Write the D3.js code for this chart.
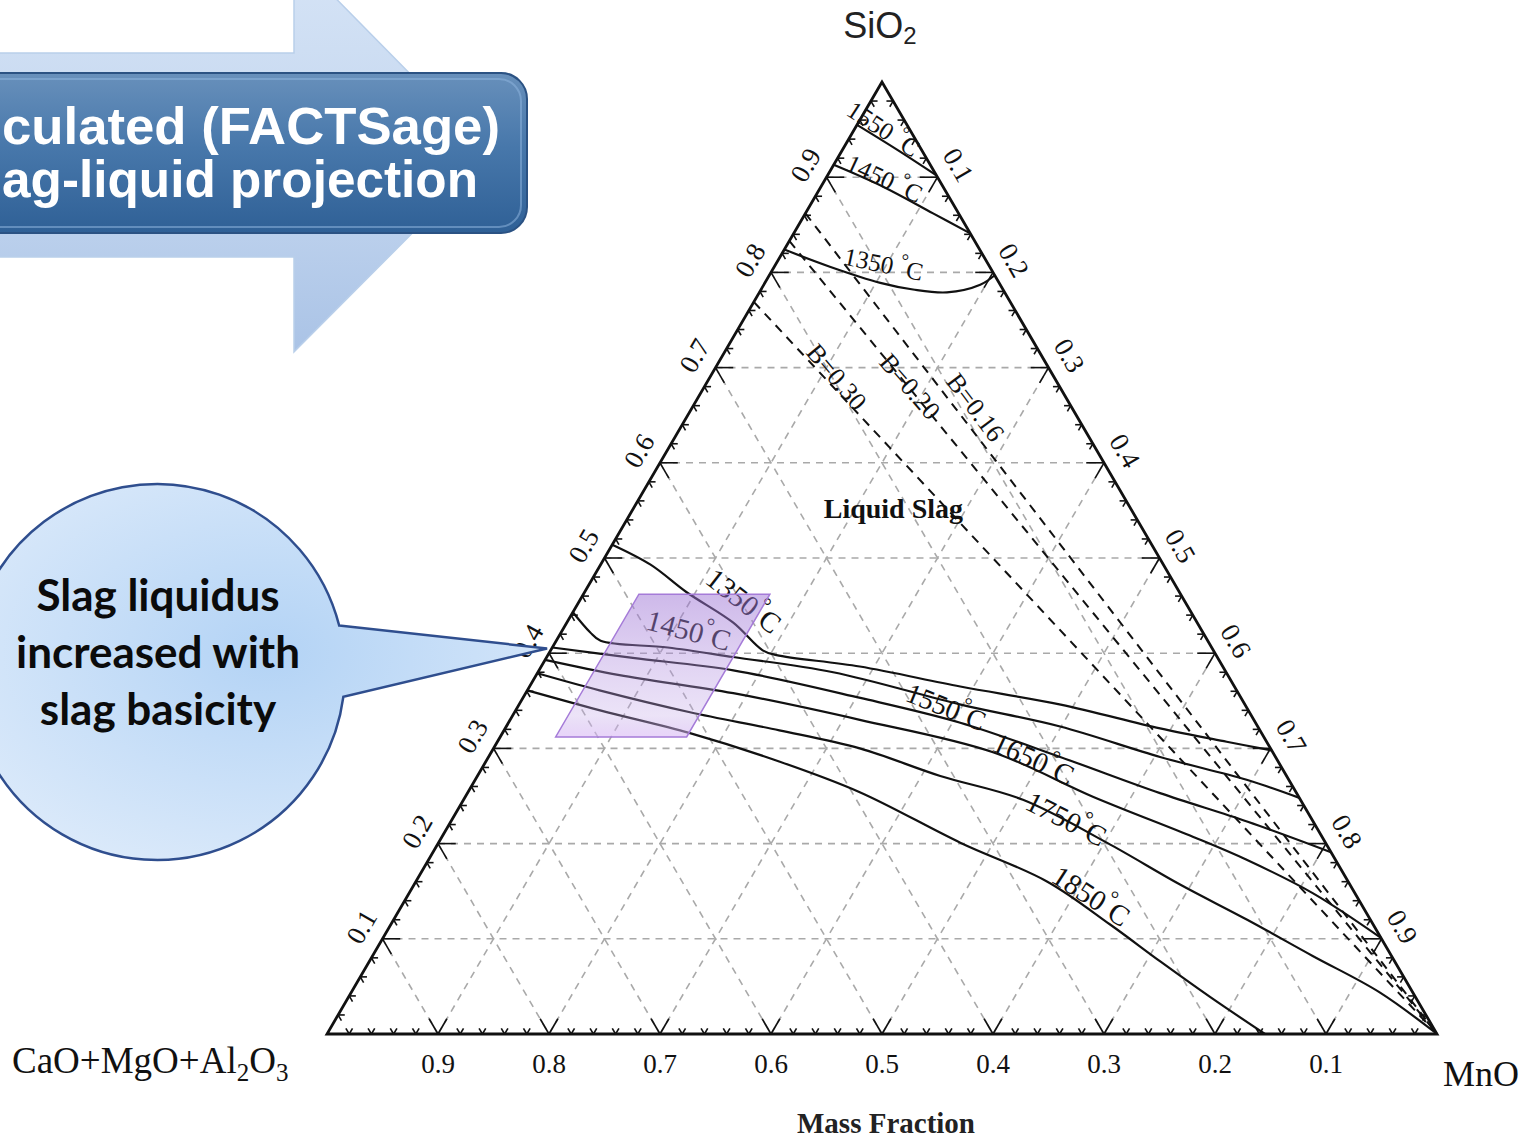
<!DOCTYPE html>
<html>
<head>
<meta charset="utf-8">
<script src="https://cdn.jsdelivr.net/npm/d3@7"></script>
<style>
  html, body { margin: 0; padding: 0; background: #fff; overflow: hidden; }
  svg { display: block; }
</style>
</head>
<body>
<svg id="chart"></svg>
<script>
// composition points are [SiO2, MnO] mass fractions; CaO+MgO+Al2O3 is the remainder
const gridSteps = [0.1, 0.2, 0.3, 0.4, 0.5, 0.6, 0.7, 0.8, 0.9];
const sio2TickLabels = ['0.1', '0.2', '0.3', '0.4', '0.5', '0.6', '0.7', '0.8', '0.9'];
const mnoTickLabels = ['0.1', '0.2', '0.3', '0.4', '0.5', '0.6', '0.7', '0.8', '0.9'];
const baseTickLabels = ['0.9', '0.8', '0.7', '0.6', '0.5', '0.4', '0.3', '0.2', '0.1'];

// liquidus isotherms near the SiO2 corner
const iso1550Upper = [[0.955, 0], [0.929, 0.049], [0.902, 0.098]];
const iso1450Upper = [[0.913, 0], [0.890, 0.056], [0.862, 0.115], [0.841, 0.159]];
const iso1350Upper = [[0.824, 0], [0.806, 0.050], [0.789, 0.104], [0.782, 0.137], [0.779, 0.169], [0.787, 0.195], [0.797, 0.203]];

// liquidus isotherms on the basic side
const iso1350 = [[0.514, 0], [0.493, 0.045], [0.464, 0.092], [0.432, 0.150], [0.403, 0.191], [0.398, 0.206], [0.386, 0.287], [0.365, 0.388], [0.346, 0.488], [0.321, 0.590], [0.307, 0.657], [0.298, 0.702]];
const iso1450 = [[0.443, 0], [0.422, 0.026], [0.413, 0.040], [0.406, 0.104], [0.396, 0.168], [0.380, 0.266], [0.346, 0.398], [0.323, 0.499], [0.291, 0.605], [0.267, 0.695], [0.248, 0.752]];
const iso1550 = [[0.406, 0], [0.395, 0.078], [0.382, 0.175], [0.353, 0.304], [0.327, 0.407], [0.291, 0.515], [0.253, 0.624], [0.223, 0.718], [0.191, 0.809]];
const iso1650 = [[0.393, 0], [0.377, 0.075], [0.358, 0.187], [0.330, 0.315], [0.296, 0.452], [0.249, 0.566], [0.207, 0.677], [0.183, 0.737], [0.148, 0.814], [0.101, 0.899]];
const iso1750 = [[0.379, 0], [0.361, 0.065], [0.338, 0.158], [0.319, 0.248], [0.300, 0.330], [0.271, 0.417], [0.246, 0.504], [0.201, 0.602], [0.157, 0.690], [0.120, 0.769], [0.082, 0.847], [0.044, 0.926], [0, 1]];
const iso1850 = [[0.361, 0], [0.340, 0.076], [0.316, 0.169], [0.286, 0.265], [0.254, 0.353], [0.201, 0.470], [0.160, 0.569], [0.115, 0.648], [0.076, 0.713], [0.039, 0.776], [0, 0.845]];

// basicity lines: start on the SiO2 - (CaO+MgO+Al2O3) side, run to the MnO corner
const basicityNames = ['B=0.30', 'B=0.20', 'B=0.16'];
const basicitySiO2 = [0.769, 0.833, 0.862];

// highlighted composition window
const windowSiO2 = [0.312, 0.462];
const windowMnO = [0.050, 0.168];

const isotherms = [
    { temp: '1550', pts: iso1550Upper, space: true, at: [0.951, 0.026], angle: 33, size: 25 },
    { temp: '1450', pts: iso1450Upper, space: true, at: [0.899, 0.053], angle: 25, size: 25 },
    { temp: '1350', pts: iso1350Upper, space: true, at: [0.809, 0.097], angle: 12, size: 25 },
    { temp: '1350', pts: iso1350, at: [0.455, 0.148], angle: 38, size: 29 },
    { temp: '1450', pts: iso1450, at: [0.424, 0.114], angle: 15, size: 29 },
    { temp: '1550', pts: iso1550, at: [0.344, 0.386], angle: 22, size: 28 },
    { temp: '1650', pts: iso1650, at: [0.289, 0.492], angle: 25, size: 29 },
    { temp: '1750', pts: iso1750, at: [0.226, 0.553], angle: 27, size: 29 },
    { temp: '1850', pts: iso1850, at: [0.145, 0.616], angle: 33, size: 29 }
];
const basicityLabelAt = [[0.690, 0.114], [0.680, 0.185], [0.658, 0.255]];
const basicityAngle = [50, 49, 53];

const SERIF = "'Liberation Serif', 'DejaVu Serif', serif";

class TernaryChart {

    constructor(config) {
        this.config = {
            parent: config.parent,
            width: config.width || 1529,
            height: config.height || 1139,
            corners: config.corners
        };
        this.init();
    }

    init() {
        let self = this;
        const c = self.config.corners;

        self.svg = d3.select(self.config.parent)
            .attr('width', self.config.width)
            .attr('height', self.config.height);

        // x runs along the base with MnO + SiO2/2, y is the SiO2 height
        self.xscale = d3.scaleLinear().domain([0, 1]).range([c.left, c.right]);
        self.yscale = d3.scaleLinear().domain([0, 1]).range([c.base, c.top]);
        self.pt = d => [self.xscale(d[1] + d[0] / 2), self.yscale(d[0])];

        self.line = d3.line()
            .x(d => self.pt(d)[0])
            .y(d => self.pt(d)[1])
            .curve(d3.curveCatmullRom.alpha(0.5));

        self.defs = self.svg.append('defs');
        self.decor = self.svg.append('g');
        self.chart = self.svg.append('g');
        self.overlay = self.svg.append('g');
    }

    render() {
        let self = this;
        self.renderDecor();
        self.renderGrid();
        self.renderCurves();
        self.renderAxes();
        self.renderOverlay();
    }

    renderDecor() {
        let self = this;

        const ag = self.defs.append('linearGradient').attr('id', 'arrowFill')
            .attr('x1', 0).attr('y1', 0).attr('x2', 0).attr('y2', 1);
        ag.append('stop').attr('offset', '0%').attr('stop-color', '#d6e4f6');
        ag.append('stop').attr('offset', '55%').attr('stop-color', '#c3d6ef');
        ag.append('stop').attr('offset', '100%').attr('stop-color', '#aac3e6');

        self.decor.append('path')
            .attr('d', 'M-10,53 L294,53 L294,-44 L490,155 L294,352 L294,257 L-10,257 Z')
            .attr('fill', 'url(#arrowFill)')
            .attr('stroke', '#b9cfea')
            .attr('stroke-width', 1.5);

        const bg = self.defs.append('linearGradient').attr('id', 'bannerFill')
            .attr('x1', 0).attr('y1', 0).attr('x2', 0).attr('y2', 1);
        bg.append('stop').attr('offset', '0%').attr('stop-color', '#6890bb');
        bg.append('stop').attr('offset', '45%').attr('stop-color', '#4878ab');
        bg.append('stop').attr('offset', '100%').attr('stop-color', '#2f6096');

        self.decor.append('rect')
            .attr('x', -40).attr('y', 73).attr('width', 567).attr('height', 160)
            .attr('rx', 26)
            .attr('fill', 'url(#bannerFill)')
            .attr('stroke', '#2b5283')
            .attr('stroke-width', 2);
        self.decor.append('rect')
            .attr('x', -40).attr('y', 79).attr('width', 561).attr('height', 148)
            .attr('rx', 22)
            .attr('fill', 'none')
            .attr('stroke', '#8db2dc')
            .attr('stroke-opacity', 0.55)
            .attr('stroke-width', 2);

        const banner = self.decor.append('g')
            .style('font-family', "'Liberation Sans', Arial, sans-serif")
            .style('font-weight', 'bold')
            .style('font-size', '52px')
            .attr('fill', '#fff');
        banner.append('text').attr('x', 2).attr('y', 144)
            .attr('textLength', 498).attr('lengthAdjust', 'spacingAndGlyphs')
            .text('culated (FACTSage)');
        banner.append('text').attr('x', 2).attr('y', 197)
            .attr('textLength', 476).attr('lengthAdjust', 'spacingAndGlyphs')
            .text('ag-liquid projection');
    }

    renderGrid() {
        let self = this;

        const segs = [];
        gridSteps.forEach(v => {
            segs.push([[v, 0], [v, 1 - v]]);
            segs.push([[0, v], [1 - v, v]]);
            segs.push([[1 - v, 0], [0, 1 - v]]);
        });

        self.chart.append('g')
            .selectAll('line')
            .data(segs)
            .join('line')
            .attr('x1', d => self.pt(d[0])[0])
            .attr('y1', d => self.pt(d[0])[1])
            .attr('x2', d => self.pt(d[1])[0])
            .attr('y2', d => self.pt(d[1])[1])
            .attr('stroke', '#a9a9a9')
            .attr('stroke-width', 1.6)
            .attr('stroke-dasharray', '7,6');
    }

    renderCurves() {
        let self = this;

        // basicity lines
        self.chart.append('g')
            .selectAll('path')
            .data(basicitySiO2)
            .join('path')
            .attr('d', d => self.line([[d, 0], [0, 1]]))
            .attr('fill', 'none')
            .attr('stroke', '#111')
            .attr('stroke-width', 2)
            .attr('stroke-dasharray', '9,7');

        self.chart.append('g')
            .selectAll('text')
            .data(basicityNames)
            .join('text')
            .attr('transform', (d, i) => {
                const p = self.pt(basicityLabelAt[i]);
                return `translate(${p[0]},${p[1]}) rotate(${basicityAngle[i]})`;
            })
            .attr('text-anchor', 'middle')
            .attr('dominant-baseline', 'central')
            .style('font-family', SERIF)
            .style('font-size', '26px')
            .attr('fill', '#111')
            .text(d => d);

        // isotherms
        self.chart.append('g')
            .selectAll('path')
            .data(isotherms)
            .join('path')
            .attr('d', d => self.line(d.pts))
            .attr('fill', 'none')
            .attr('stroke', '#111')
            .attr('stroke-width', 2.2);

        const labels = self.chart.append('g')
            .selectAll('text')
            .data(isotherms)
            .join('text')
            .attr('transform', d => {
                const p = self.pt(d.at);
                return `translate(${p[0]},${p[1]}) rotate(${d.angle})`;
            })
            .attr('text-anchor', 'middle')
            .attr('dominant-baseline', 'central')
            .style('font-family', SERIF)
            .style('font-size', d => d.size + 'px')
            .attr('fill', '#111');
        labels.append('tspan').text(d => d.temp + (d.space ? ' ' : ''));
        labels.append('tspan').attr('dy', '-0.45em').style('font-size', '0.75em').text('°');
        labels.append('tspan').attr('dy', '0.34em').text('C');

        const ls = self.pt([0.5525, 0.234]);
        self.chart.append('text')
            .attr('x', ls[0]).attr('y', ls[1])
            .attr('text-anchor', 'middle')
            .attr('dominant-baseline', 'central')
            .style('font-family', SERIF)
            .style('font-weight', 'bold')
            .style('font-size', '28px')
            .attr('fill', '#111')
            .text('Liquid Slag');
    }

    renderAxes() {
        let self = this;

        // ticks: every 0.02, longer chevrons every 0.1
        const ticks = [];
        d3.range(1, 50).forEach(k => {
            const v = k / 50;
            const t = k % 5 === 0 ? 0.016 : 0.006;
            ticks.push([[v, 0], [v, t]], [[v, 0], [v - t, t]]);
            ticks.push([[0, v], [t, v]], [[0, v], [t, v - t]]);
            ticks.push([[v, 1 - v], [v, 1 - v - t]], [[v, 1 - v], [v - t, 1 - v]]);
        });

        self.chart.append('g')
            .selectAll('line')
            .data(ticks)
            .join('line')
            .attr('x1', d => self.pt(d[0])[0])
            .attr('y1', d => self.pt(d[0])[1])
            .attr('x2', d => self.pt(d[1])[0])
            .attr('y2', d => self.pt(d[1])[1])
            .attr('stroke', '#111')
            .attr('stroke-width', 1.6);

        const corners = [[1, 0], [0, 0], [0, 1]].map(self.pt);
        self.chart.append('path')
            .attr('d', 'M' + corners.join('L') + 'Z')
            .attr('fill', 'none')
            .attr('stroke', '#111')
            .attr('stroke-width', 2.8);

        const tickText = self.chart.append('g')
            .style('font-family', SERIF)
            .style('font-size', '27px')
            .attr('fill', '#111')
            .attr('text-anchor', 'middle')
            .attr('dominant-baseline', 'central');

        const off = 24;
        tickText.selectAll('.left')
            .data(sio2TickLabels)
            .join('text')
            .attr('class', 'left')
            .attr('transform', (d, i) => {
                const p = self.pt([gridSteps[i], 0]);
                return `translate(${p[0] - off * 0.866},${p[1] - off * 0.5}) rotate(-60)`;
            })
            .text(d => d);

        tickText.selectAll('.right')
            .data(mnoTickLabels)
            .join('text')
            .attr('class', 'right')
            .attr('transform', (d, i) => {
                const m = gridSteps[i];
                const p = self.pt([1 - m, m]);
                return `translate(${p[0] + off * 0.866},${p[1] - off * 0.5}) rotate(60)`;
            })
            .text(d => d);

        tickText.selectAll('.base')
            .data(baseTickLabels)
            .join('text')
            .attr('class', 'base')
            .attr('x', d => self.pt([0, 1 - (+d)])[0])
            .attr('y', d => self.pt([0, 1 - (+d)])[1] + 30)
            .text(d => d);

        // component names
        const top = self.pt([1, 0]);
        const si = self.svg.append('text')
            .attr('x', top[0] - 2).attr('y', 38)
            .attr('text-anchor', 'middle')
            .style('font-family', "'Liberation Sans', Arial, sans-serif")
            .style('font-size', '36px')
            .attr('fill', '#222');
        si.append('tspan').text('SiO');
        si.append('tspan').attr('dy', 6).style('font-size', '24px').text('2');

        const ca = self.svg.append('text')
            .attr('x', 12).attr('y', 1073)
            .style('font-family', SERIF)
            .style('font-size', '37px')
            .attr('fill', '#111');
        ca.append('tspan').text('CaO+MgO+Al');
        ca.append('tspan').attr('dy', 8).style('font-size', '25px').text('2');
        ca.append('tspan').attr('dy', -8).text('O');
        ca.append('tspan').attr('dy', 8).style('font-size', '25px').text('3');

        self.svg.append('text')
            .attr('x', 1443).attr('y', 1086)
            .style('font-family', SERIF)
            .style('font-size', '36px')
            .attr('fill', '#111')
            .text('MnO');

        self.svg.append('text')
            .attr('x', 886).attr('y', 1133)
            .attr('text-anchor', 'middle')
            .style('font-family', SERIF)
            .style('font-weight', 'bold')
            .style('font-size', '29px')
            .attr('fill', '#222')
            .text('Mass Fraction');
    }

    renderOverlay() {
        let self = this;

        // highlighted composition window
        const wg = self.defs.append('linearGradient').attr('id', 'windowFill')
            .attr('x1', 0).attr('y1', 0).attr('x2', 0).attr('y2', 1);
        wg.append('stop').attr('offset', '0%').attr('stop-color', '#9c72d4').attr('stop-opacity', 0.5);
        wg.append('stop').attr('offset', '85%').attr('stop-color', '#c3a8e8').attr('stop-opacity', 0.32);
        wg.append('stop').attr('offset', '100%').attr('stop-color', '#d9b8f5').attr('stop-opacity', 0.6);

        const box = [
            [windowSiO2[1], windowMnO[0]], [windowSiO2[1], windowMnO[1]],
            [windowSiO2[0], windowMnO[1]], [windowSiO2[0], windowMnO[0]]
        ].map(self.pt);
        self.overlay.append('path')
            .attr('d', 'M' + box.join('L') + 'Z')
            .attr('fill', 'url(#windowFill)')
            .attr('stroke', '#a57bd8')
            .attr('stroke-width', 1.5);

        // callout bubble
        const rg = self.defs.append('radialGradient').attr('id', 'bubbleFill')
            .attr('cx', '0.52').attr('cy', '0.45').attr('r', '0.6');
        rg.append('stop').attr('offset', '0%').attr('stop-color', '#b3d3f5');
        rg.append('stop').attr('offset', '100%').attr('stop-color', '#dae9fa');

        const cx = 157, cy = 672, r = 188;
        const a1 = -14.3 * Math.PI / 180, a2 = 7.6 * Math.PI / 180;
        const p1 = [cx + r * Math.cos(a1), cy + r * Math.sin(a1)];
        const p2 = [cx + r * Math.cos(a2), cy + r * Math.sin(a2)];
        const tip = self.pt([0.405, 0.003]);
        tip[0] -= 8;
        self.overlay.append('path')
            .attr('d', `M${p1} L${tip} L${p2} A${r},${r} 0 1 1 ${p1} Z`)
            .attr('fill', 'url(#bubbleFill)')
            .attr('stroke', '#2f4e8e')
            .attr('stroke-width', 2.5);

        const bubble = self.overlay.append('g')
            .style('font-family', "Lato, 'Open Sans', sans-serif")
            .style('font-weight', 'bold')
            .style('font-size', '44px')
            .attr('fill', '#0b0b0b')
            .attr('text-anchor', 'middle');
        ['Slag liquidus', 'increased with', 'slag basicity'].forEach((t, i) => {
            bubble.append('text').attr('x', 158).attr('y', 611 + i * 57).text(t);
        });
    }
}

const chart = new TernaryChart({
    parent: '#chart',
    width: 1529,
    height: 1139,
    corners: { left: 327, right: 1437, base: 1034, top: 82 }
});
chart.render();
</script>
</body>
</html>
